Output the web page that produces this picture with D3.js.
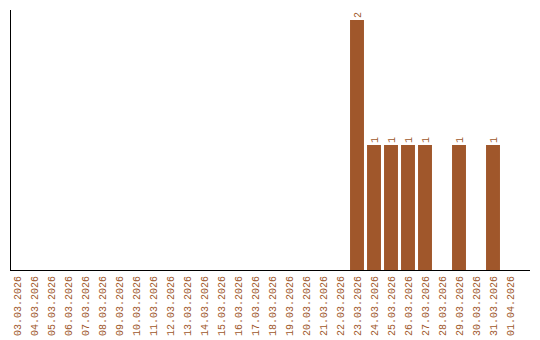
<!DOCTYPE html>
<html>
<head>
<meta charset="utf-8">
<script src="https://cdn.jsdelivr.net/npm/d3@7"></script>
<style>
  body { margin: 0; background: #fff; }
</style>
</head>
<body>
<div id="chart"></div>
<script>
const dates = [
    "03.03.2026", "04.03.2026", "05.03.2026", "06.03.2026", "07.03.2026",
    "08.03.2026", "09.03.2026", "10.03.2026", "11.03.2026", "12.03.2026",
    "13.03.2026", "14.03.2026", "15.03.2026", "16.03.2026", "17.03.2026",
    "18.03.2026", "19.03.2026", "20.03.2026", "21.03.2026", "22.03.2026",
    "23.03.2026", "24.03.2026", "25.03.2026", "26.03.2026", "27.03.2026",
    "28.03.2026", "29.03.2026", "30.03.2026", "31.03.2026", "01.04.2026"
];
const counts = [
    0, 0, 0, 0, 0, 0, 0, 0, 0, 0,
    0, 0, 0, 0, 0, 0, 0, 0, 0, 0,
    2, 1, 1, 1, 1, 0, 1, 0, 1, 0
];

const width = 540;
const height = 340;
const color = "#a0572b";
const font = "Liberation Mono, Courier New, monospace";

const svg = d3.select("#chart")
    .append("svg")
    .attr("width", width)
    .attr("height", height);

const x = d3.scaleBand()
    .domain(dates)
    .range([8.5, 518.5])
    .paddingInner(0.18)
    .paddingOuter(0.09);

const y = d3.scaleLinear()
    .domain([0, 2])
    .range([270, 20]);

const barData = dates.map((d, i) => ({ date: d, value: counts[i] })).filter(d => d.value > 0);

// bars
svg.selectAll("rect.bar")
    .data(barData)
    .enter()
    .append("rect")
    .attr("class", "bar")
    .attr("x", d => x(d.date))
    .attr("y", d => y(d.value))
    .attr("width", x.bandwidth())
    .attr("height", d => y(0) - y(d.value))
    .attr("fill", color);

// value labels, rotated like the dates
svg.selectAll("text.value")
    .data(barData)
    .enter()
    .append("text")
    .attr("class", "value")
    .attr("transform", d => `translate(${x(d.date) + x.bandwidth() / 2 + 3.5},${y(d.value) - 2}) rotate(-90)`)
    .attr("text-anchor", "start")
    .style("font-family", font)
    .style("font-size", "10px")
    .style("fill", color)
    .text(d => d.value);

// axes lines
svg.append("line")
    .attr("x1", 10.5).attr("y1", 10)
    .attr("x2", 10.5).attr("y2", 270.5)
    .attr("stroke", "#000")
    .attr("stroke-width", 1);

svg.append("line")
    .attr("x1", 10).attr("y1", 270.5)
    .attr("x2", 530).attr("y2", 270.5)
    .attr("stroke", "#000")
    .attr("stroke-width", 1);

// date labels
svg.selectAll("text.date")
    .data(dates)
    .enter()
    .append("text")
    .attr("class", "date")
    .attr("transform", d => `translate(${x(d) + x.bandwidth() / 2 + 3.5},276) rotate(-90)`)
    .attr("text-anchor", "end")
    .style("font-family", font)
    .style("font-size", "10px")
    .style("fill", color)
    .text(d => d);
</script>
</body>
</html>
